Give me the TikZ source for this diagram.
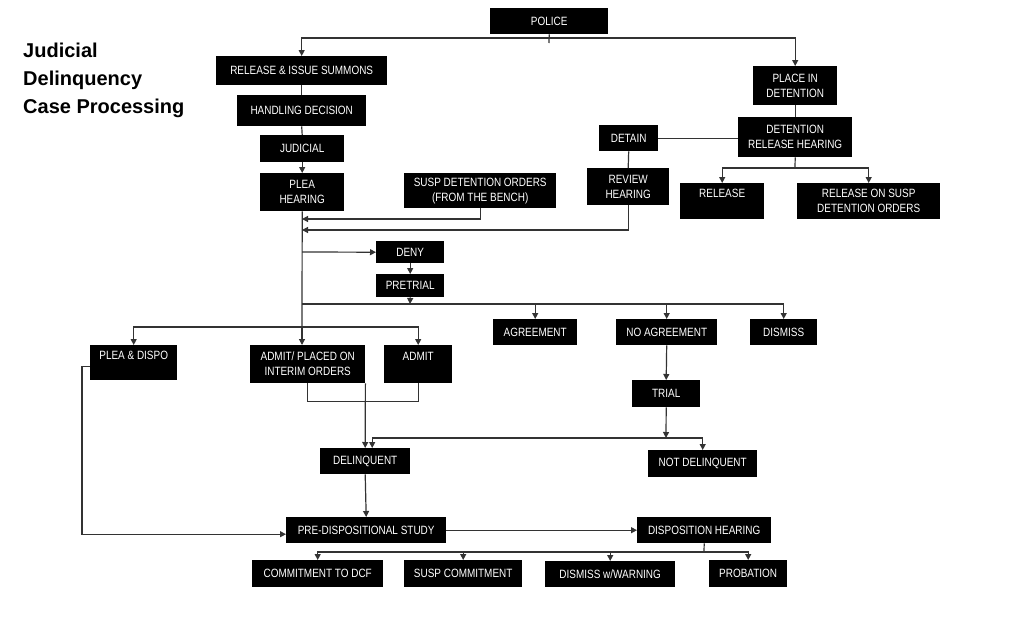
\documentclass[tikz,border=0pt]{standalone}
\usepackage{fontspec}
\setmainfont{Liberation Sans}[FakeStretch=0.83]
\newfontfamily\titlefont{Liberation Sans}
\usepackage{tikz}
\usetikzlibrary{arrows.meta}

\begin{document}
\begin{tikzpicture}[x=1pt,y=-1pt,
  blk/.style={fill=black,text=white,anchor=north west,inner sep=0pt,align=center,font=\fontsize{12}{15}\selectfont},
  ln/.style={draw=black!80,line width=1.2pt},
  arr/.style={ln,-{Triangle[length=6pt,width=6pt]}}]
\useasboundingbox (0,0) rectangle (1023,621);

\node[anchor=north west,inner sep=0pt,align=left,font=\titlefont\bfseries\fontsize{20}{28}\selectfont] (title) at (23,43) {Judicial\\Delinquency\\Case Processing};

% boxes
\node[blk,minimum width=118pt,minimum height=26pt] (police) at (490,8) {POLICE};
\node[blk,minimum width=171pt,minimum height=29pt] (summons) at (216,56) {RELEASE \& ISSUE SUMMONS};
\node[blk,minimum width=129pt,minimum height=31pt] (handling) at (237,95) {HANDLING DECISION};
\node[blk,minimum width=84pt,minimum height=27pt] (judicial) at (260,135) {JUDICIAL};
\node[blk,minimum width=84pt,minimum height=38pt] (plea) at (260,173) {PLEA\\HEARING};
\node[blk,minimum width=152pt,minimum height=35pt] (suspdet) at (404,173) {SUSP DETENTION ORDERS\\(FROM THE BENCH)};
\node[blk,minimum width=59pt,minimum height=26pt] (detain) at (599,125) {DETAIN};
\node[blk,minimum width=82pt,minimum height=37pt] (review) at (587,168) {REVIEW\\HEARING};
\node[blk,minimum width=84pt,minimum height=39pt] (place) at (753,66) {PLACE IN\\DETENTION};
\node[blk,minimum width=114pt,minimum height=40pt] (dethear) at (738,117) {DETENTION\\RELEASE HEARING};
\node[blk,minimum width=84pt,minimum height=36pt] (release) at (680,183) {RELEASE\\~};
\node[blk,minimum width=143pt,minimum height=36pt] (relsusp) at (797,183) {RELEASE ON SUSP\\DETENTION ORDERS};
\node[blk,minimum width=68pt,minimum height=22pt] (deny) at (376,241) {DENY};
\node[blk,minimum width=68pt,minimum height=23pt] (pretrial) at (376,274) {PRETRIAL};
\node[blk,minimum width=84pt,minimum height=26pt] (agree) at (493,319) {AGREEMENT};
\node[blk,minimum width=101pt,minimum height=26pt] (noagree) at (616,319) {NO AGREEMENT};
\node[blk,minimum width=67pt,minimum height=26pt] (dismiss) at (750,319) {DISMISS};
\node[blk,minimum width=68pt,minimum height=27pt] (trial) at (632,380) {TRIAL};
\node[blk,minimum width=109pt,minimum height=27pt] (notdel) at (648,450) {NOT DELINQUENT};
\node[blk,minimum width=87pt,minimum height=35pt] (pleadispo) at (90,345) {PLEA \& DISPO\\~};
\node[blk,minimum width=115pt,minimum height=38pt] (admitint) at (250,345) {ADMIT/ PLACED ON\\INTERIM ORDERS};
\node[blk,minimum width=68pt,minimum height=38pt] (admit) at (384,345) {ADMIT\\~};
\node[blk,minimum width=90pt,minimum height=26pt] (delinq) at (320,448) {DELINQUENT};
\node[blk,minimum width=160pt,minimum height=26pt] (predisp) at (286,517) {PRE-DISPOSITIONAL STUDY};
\node[blk,minimum width=134pt,minimum height=26pt] (disphear) at (637,517) {DISPOSITION HEARING};
\node[blk,minimum width=131pt,minimum height=27pt] (commit) at (252,560) {COMMITMENT TO DCF};
\node[blk,minimum width=118pt,minimum height=27pt] (suspcom) at (404,560) {SUSP COMMITMENT};
\node[blk,minimum width=130pt,minimum height=26pt] (dismwarn) at (545,561) {DISMISS w/WARNING};
\node[blk,minimum width=78pt,minimum height=27pt] (probation) at (709,560) {PROBATION};

% junctions
\coordinate (pol) at (549,38);
\coordinate (tick) at (549,43);
\coordinate (split) at (302,327);
\coordinate (j1) at (302,219);
\coordinate (j2) at (302,230);
\coordinate (j3) at (302,252);
\coordinate (pt) at (410,304);
\coordinate (ptl) at (302,304);
\coordinate (dh) at (795,168);
\coordinate (tr) at (666,438);
\coordinate (dp) at (704,552);

\draw[ln] (police.south) -- (tick);
\draw[arr] (pol) -| (summons.north);
\draw[arr] (pol) -| (place.north);
\draw[ln] (summons.south) -- (handling.north);
\draw[ln] (handling.south) -- (judicial.north);
\draw[arr] (judicial.south) -- (plea.north);
\draw[ln] (plea.south) -- (split);
\draw[arr] (suspdet.south) |- (j1);
\draw[arr] (review.south) |- (j2);
\draw[ln] (detain.east) -- (detain.east -| dethear.west);
\draw[ln] (detain.south) -- (review.north);
\draw[ln] (place.south) -- (dethear.north);
\draw[ln] (dethear.south) -- (dh);
\draw[arr] (dh) -| (release.north);
\draw[arr] (dh) -| (relsusp.north);
\draw[arr] (j3) -- (deny.west);
\draw[arr] (deny.south) -- (pretrial.north);
\draw[arr] (pretrial.south) -- (pt);
\draw[ln] (ptl) -- (pt -| dismiss.north);
\draw[arr] (pt -| agree.north) -- (agree.north);
\draw[arr] (pt -| noagree.north) -- (noagree.north);
\draw[arr] (pt -| dismiss.north) -- (dismiss.north);
\draw[arr] (split) -| (pleadispo.north);
\draw[arr] (split) -| (admit.north);
\draw[arr] (split) -- (split |- admitint.north);
\draw[ln] (admitint.south) -- ++(0,18) -| (admit.south);
\draw[arr] (admitint.south east) -- (delinq.north);
\draw[arr] (noagree.south) -- (trial.north);
\draw[arr] (trial.south) -- (tr);
\draw[arr] (tr) -| ([xshift=7pt]delinq.north);
\draw[arr] (tr) -| (notdel.north);
\draw[arr] (delinq.south) -- (predisp.north);
\draw[arr] ([yshift=-4pt]pleadispo.west) -- ++(-8,0) |- ([yshift=-4pt]predisp.west);
\draw[arr] (predisp.east) -- (disphear.west);
\draw[ln] (disphear.south) -- (dp);
\draw[arr] (dp) -| (commit.north);
\draw[arr] (dp) -| (suspcom.north);
\draw[arr] (dp) -| (dismwarn.north);
\draw[arr] (dp) -| (probation.north);
\end{tikzpicture}
\end{document}
